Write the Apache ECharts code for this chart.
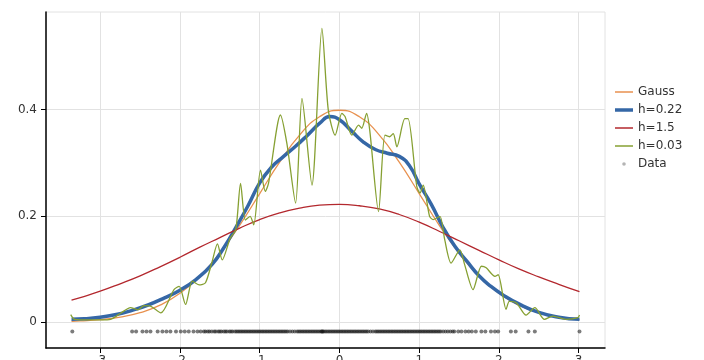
<!DOCTYPE html>
<html>
<head>
<meta charset="utf-8">
<script src="https://cdn.jsdelivr.net/npm/echarts@6/dist/echarts.min.js"></script>
<style>html,body{margin:0;padding:0;background:#fff}#c{width:704px;height:360px}</style>
</head>
<body>
<div id="c"></div>
<script>
// ---- data ----
const xTicks = [-3, -2, -1, 0, 1, 2, 3];
const yTicks = [0, 0.2, 0.4];
const xMin = -3.68, xMax = 3.33, yMin = -0.049, yMax = 0.584;

const gaussX = [-3.36,-3.25,-3.0,-2.75,-2.5,-2.25,-2.0,-1.75,-1.5,-1.25,-1.0,-0.75,-0.5,-0.25,0,0.25,0.5,0.75,1.0,1.25,1.5,1.75,2.0,2.25,2.5,2.75,3.01];
const gaussY = [0.0014,0.0020,0.0044,0.0091,0.0175,0.0317,0.0540,0.0863,0.1295,0.1826,0.2420,0.3011,0.3521,0.3867,0.3989,0.3867,0.3521,0.3011,0.2420,0.1826,0.1295,0.0863,0.0540,0.0317,0.0175,0.0091,0.0043];

const h022X = [-3.36,-3.2,-3.0,-2.8,-2.6,-2.4,-2.2,-2.0,-1.8,-1.6,-1.45,-1.3,-1.15,-1.0,-0.85,-0.7,-0.55,-0.4,-0.25,-0.12,0.0,0.15,0.3,0.45,0.6,0.75,0.88,1.0,1.15,1.3,1.45,1.6,1.75,1.9,2.05,2.25,2.5,2.75,3.01];
const h022Y = [0.005,0.006,0.009,0.014,0.022,0.032,0.045,0.060,0.080,0.108,0.140,0.178,0.218,0.262,0.292,0.312,0.331,0.352,0.374,0.387,0.381,0.360,0.339,0.325,0.318,0.312,0.294,0.260,0.222,0.178,0.142,0.114,0.087,0.067,0.051,0.034,0.018,0.009,0.005];

const h15X = [-3.36,-3.25,-3.0,-2.75,-2.5,-2.25,-2.0,-1.75,-1.5,-1.25,-1.0,-0.75,-0.5,-0.25,0,0.25,0.5,0.75,1.0,1.25,1.5,1.75,2.0,2.25,2.5,2.75,3.01];
const h15Y = [0.041,0.046,0.058,0.072,0.087,0.104,0.122,0.141,0.159,0.177,0.193,0.2055,0.2145,0.220,0.2215,0.219,0.213,0.2025,0.188,0.171,0.153,0.135,0.117,0.100,0.085,0.071,0.057];

const h003X = [-3.37,-3.32,-3.15,-2.99,-2.87,-2.74,-2.62,-2.53,-2.45,-2.37,-2.24,-2.075,-2.01,-1.93,-1.845,-1.76,-1.68,-1.60,-1.53,-1.47,-1.37,-1.30,-1.24,-1.18,-1.12,-1.075,-0.99,-0.93,-0.89,-0.74,-0.66,-0.55,-0.47,-0.345,-0.22,-0.14,-0.054,0.03,0.07,0.155,0.24,0.28,0.34,0.38,0.49,0.57,0.63,0.675,0.72,0.82,0.86,0.97,1.01,1.05,1.13,1.175,1.26,1.32,1.40,1.51,1.57,1.675,1.78,1.84,1.95,1.99,2.09,2.13,2.22,2.34,2.45,2.57,2.675,2.84,2.99,3.01];
const h003Y = [0.014,0.005,0.004,0.004,0.005,0.017,0.027,0.023,0.031,0.030,0.017,0.061,0.067,0.033,0.077,0.070,0.074,0.112,0.147,0.117,0.158,0.174,0.261,0.192,0.199,0.183,0.286,0.246,0.261,0.390,0.337,0.224,0.421,0.258,0.553,0.399,0.352,0.393,0.387,0.352,0.371,0.365,0.393,0.361,0.208,0.352,0.349,0.355,0.330,0.383,0.383,0.255,0.243,0.258,0.199,0.193,0.199,0.155,0.111,0.136,0.108,0.061,0.105,0.102,0.086,0.089,0.024,0.039,0.036,0.013,0.027,0.005,0.011,0.005,0.008,0.013];

const rugY = -0.018;
const sampleX = [-3.35,-2.60,-2.55,-2.47,-2.42,-2.37,-2.28,-2.22,-2.17,-2.12,-2.05,-1.99,-1.94,-1.89,-1.83,-1.78,-1.74,-1.70,
-1.68,-1.65,-1.63,-1.60,-1.57,-1.55,-1.52,-1.50,-1.48,-1.45,-1.43,-1.41,-1.38,-1.36,-1.34,-1.31,-1.29,-1.27,-1.25,-1.23,-1.21,-1.19,-1.17,-1.15,-1.13,-1.11,-1.09,-1.07,-1.05,-1.03,-1.01,-0.99,-0.97,-0.95,-0.93,-0.91,-0.89,-0.87,-0.85,-0.83,-0.81,-0.79,-0.77,-0.75,-0.73,-0.71,-0.69,-0.67,-0.65,-0.62,-0.59,-0.56,-0.53,-0.51,-0.49,-0.47,-0.45,-0.43,-0.41,-0.39,-0.37,-0.35,-0.33,-0.31,-0.29,-0.27,-0.25,-0.23,-0.22,-0.21,-0.20,-0.18,-0.16,-0.14,-0.12,-0.10,-0.08,-0.06,-0.04,-0.02,0.00,0.02,0.04,0.06,0.08,0.10,0.12,0.14,0.16,0.18,0.20,0.22,0.24,0.26,0.28,0.30,0.32,0.34,0.36,0.39,0.42,0.45,0.47,0.49,0.51,0.53,0.55,0.57,0.59,0.61,0.63,0.65,0.67,0.69,0.71,0.73,0.75,0.77,0.79,0.81,0.83,0.85,0.87,0.89,0.91,0.93,0.95,0.97,0.99,1.01,1.03,1.05,1.07,1.09,1.11,1.13,1.15,1.17,1.19,1.21,1.23,1.25,1.27,1.30,1.33,1.36,1.39,1.42,
1.44,1.49,1.53,1.58,1.62,1.66,1.71,1.78,1.83,1.90,1.95,1.99,2.15,2.21,2.37,2.45,3.01];

// ---- build ----
const zip = (xs, ys) => xs.map((x, i) => [x, ys[i]]);
const font = 'DejaVu Sans';
const svgIcon = inner => 'image://data:image/svg+xml;utf8,' + encodeURIComponent(
  '<svg xmlns="http://www.w3.org/2000/svg" width="18" height="12">' + inner + '</svg>');
const lineIcon = (c, w) => svgIcon('<line x1="0" y1="6" x2="18" y2="6" stroke="' + c + '" stroke-width="' + w + '"/>');
const dotIcon = svgIcon('<circle cx="9" cy="6" r="1.8" fill="#777"/>');

const C_GAUSS = '#e8914f', C_022 = '#3567a6', C_15 = '#b3282e', C_003 = '#86a032';

const chart = echarts.init(document.getElementById('c'), null, {renderer: 'canvas'});
chart.setOption({
  animation: false,
  backgroundColor: '#fff',
  grid: {left: 46, top: 12, right: 99, bottom: 12, outerBoundsMode: 'none', containLabel: false,
    show: true, borderColor: '#e2e2e2', borderWidth: 1},
  legend: {
    orient: 'vertical', left: 610, top: 81, itemWidth: 18, itemHeight: 12, itemGap: 6,
    textStyle: {fontFamily: font, fontSize: 12, color: '#333'},
    data: [
      {name: 'Gauss', icon: lineIcon(C_GAUSS, 1.5)},
      {name: 'h=0.22', icon: lineIcon(C_022, 3.5)},
      {name: 'h=1.5', icon: lineIcon(C_15, 1.5)},
      {name: 'h=0.03', icon: lineIcon(C_003, 1.5)},
      {name: 'Data', icon: dotIcon}
    ]
  },
  xAxis: {
    type: 'value', min: xMin, max: xMax,
    axisLine: {onZero: false, lineStyle: {color: '#000', width: 1.5}},
    axisTick: {show: true, length: 5, customValues: xTicks, lineStyle: {color: '#000'}},
    axisLabel: {customValues: xTicks, margin: 7, fontFamily: font, fontSize: 12, color: '#333'},
    splitLine: {show: true, customValues: xTicks, lineStyle: {color: '#e2e2e2', width: 1}}
  },
  yAxis: {
    type: 'value', min: yMin, max: yMax,
    axisLine: {show: true, onZero: false, lineStyle: {color: '#000', width: 1.5}},
    axisTick: {show: true, length: 5, customValues: yTicks, lineStyle: {color: '#000'}},
    axisLabel: {customValues: yTicks, margin: 9, fontFamily: font, fontSize: 12, color: '#333',
      formatter: v => String(Math.round(v * 10) / 10)},
    splitLine: {show: true, customValues: yTicks, lineStyle: {color: '#e2e2e2', width: 1}}
  },
  series: [
    {name: 'Gauss', type: 'line', data: zip(gaussX, gaussY), smooth: true, symbol: 'none',
      lineStyle: {color: C_GAUSS, width: 1.3}, itemStyle: {color: C_GAUSS}},
    {name: 'h=0.22', type: 'line', data: zip(h022X, h022Y), smooth: true, symbol: 'none',
      lineStyle: {color: C_022, width: 3.5}, itemStyle: {color: C_022}},
    {name: 'h=1.5', type: 'line', data: zip(h15X, h15Y), smooth: true, symbol: 'none',
      lineStyle: {color: C_15, width: 1.3}, itemStyle: {color: C_15}},
    {name: 'h=0.03', type: 'line', data: zip(h003X, h003Y), smooth: 0.25, symbol: 'none',
      lineStyle: {color: C_003, width: 1.3}, itemStyle: {color: C_003}},
    {name: 'Data', type: 'scatter', data: sampleX.map(x => [x, rugY]), symbol: 'circle', symbolSize: 4,
      itemStyle: {color: '#111', opacity: 0.55}}
  ]
});
</script>
</body>
</html>
